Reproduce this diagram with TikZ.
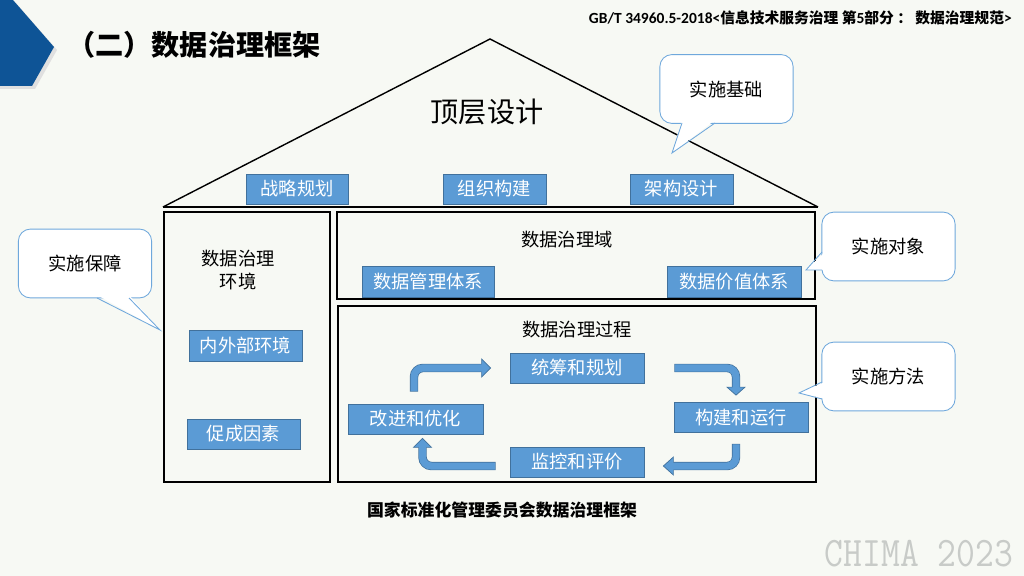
\documentclass[tikz,border=0pt]{standalone}
\usepackage{fontspec}
\newfontfamily\cjk{Noto Sans CJK SC}
\newfontfamily\latinb{Carlito}
\usetikzlibrary{calc}
\definecolor{boxfill}{RGB}{91,155,213}
\definecolor{boxedge}{RGB}{65,113,156}
\definecolor{callline}{RGB}{111,168,220}
\definecolor{slidebg}{RGB}{247,249,244}
\definecolor{cornerblue}{RGB}{14,84,150}
\definecolor{markgray}{RGB}{200,203,200}
\tikzset{
  bluebox/.style={draw=boxedge, fill=boxfill, text=white, line width=0.5pt, inner sep=0pt,
    minimum height=0.75cm, font=\cjk\fontsize{13}{13}\selectfont},
  caption/.style={font=\cjk\fontsize{13}{16}\selectfont, align=center},
  bubble/.style={draw=callline, fill=white, line width=0.6pt, rounded corners=0.3cm,
    minimum width=3.33cm, minimum height=1.72cm, font=\cjk\fontsize{13}{13}\selectfont},
  frame/.style={draw=black, line width=1.3pt},
  shaft/.style={line width=0.21cm, draw=boxedge, rounded corners=0.22cm},
  shaftin/.style={line width=0.175cm, draw=boxfill, rounded corners=0.22cm},
  head/.style={fill=boxfill, draw=boxedge, line width=0.5pt, line join=miter},
}

\begin{document}
\begin{tikzpicture}[x=0.025cm,y=-0.025cm]
\useasboundingbox (0,0) rectangle (1024,576);
\fill[slidebg] (0,0) rectangle (1024,576);

% corner mark and title
\fill[black!12] (0,3) -- (16,3) -- (57,50) -- (35,89) -- (0,89) -- cycle;
\fill[cornerblue] (0,0) -- (13,0) -- (54,47) -- (32,86) -- (0,86) -- cycle;
\node[font=\cjk\bfseries\fontsize{20}{20}\selectfont] (title) at (194,45) {（二）数据治理框架};
\node[anchor=east, inner sep=0pt] (std) at (1012,18)
  {{\latinb\bfseries\fontsize{11}{11}\selectfont GB/T 34960.5-2018<}{\cjk\bfseries\fontsize{10.5}{11}\selectfont 信息技术服务治理 第}{\latinb\bfseries\fontsize{11}{11}\selectfont 5}{\cjk\bfseries\fontsize{10.5}{11}\selectfont 部分 ： 数据治理规范}{\latinb\bfseries\fontsize{11}{11}\selectfont >}};

% roof
\draw[line width=1pt] (163,207) -- (490,39) -- (818,207);
\draw[line width=1pt] (163,207) -- (818,207);
\node[font=\cjk\fontsize{20}{20}\selectfont] (ding) at (487,112) {顶层设计};
\node[bluebox, minimum width=2.55cm] (zl) at (297,189) {战略规划};
\node[bluebox, minimum width=2.57cm] (zz) at (494.5,189) {组织构建};
\node[bluebox, minimum width=2.57cm] (jg) at (681.5,189) {架构设计};

% frames
\draw[frame] (164,212) rectangle (330,482);
\draw[frame] (337,212) rectangle (815,299);
\draw[frame] (338,306) rectangle (816,482);

% environment
\node[caption] (hj) at (238,270) {数据治理\\环境};
\node[bluebox, minimum width=2.83cm, minimum height=0.78cm] (nwb) at (245.5,345.5) {内外部环境};
\node[bluebox, minimum width=2.83cm] (cc) at (243.5,434) {促成因素};

% domain
\node[caption] (yu) at (567,240) {数据治理域};
\node[bluebox, minimum width=3.3cm, minimum height=0.78cm] (gl) at (428,281.5) {数据管理体系};
\node[bluebox, minimum width=3.35cm, minimum height=0.78cm] (jz) at (734,281.5) {数据价值体系};

% process
\node[caption] (gc) at (577,330) {数据治理过程};
\node[bluebox, minimum width=3.35cm] (tc) at (577,368) {统筹和规划};
\node[bluebox, minimum width=3.37cm] (gy) at (415.5,419) {改进和优化};
\node[bluebox, minimum width=3.35cm] (js) at (741,417.5) {构建和运行};
\node[bluebox, minimum width=3.35cm] (jp) at (577,462) {监控和评价};

% cycle arrows
\draw[shaft] ($(gy.north)+(-1.5,-12)$) |- ($(tc.west)+(-28,0)$);
\filldraw[head] ($(tc.west)+(-28,-9)$) -- ($(tc.west)+(-19,0)$) -- ($(tc.west)+(-28,9)$) -- cycle;
\draw[shaftin] ($(gy.north)+(-1.5,-12.6)$) |- ($(tc.west)+(-27,0)$);

\draw[shaft] ($(tc.east)+(30,0)$) -| ($(js.north)+(-5,-15)$);
\filldraw[head] ($(js.north)+(-14,-15)$) -- ($(js.north)+(-5,-7)$) -- ($(js.north)+(4,-15)$) -- cycle;
\draw[shaftin] ($(tc.east)+(30.6,0)$) -| ($(js.north)+(-5,-14)$);

\draw[shaft] ($(js.south)+(-5,11)$) |- ($(jp.east)+(29,4)$);
\filldraw[head] ($(jp.east)+(29,-5)$) -- ($(jp.east)+(19,4)$) -- ($(jp.east)+(29,13)$) -- cycle;
\draw[shaftin] ($(js.south)+(-5,11.6)$) |- ($(jp.east)+(28,4)$);

\draw[shaft] ($(jp.west)+(-14,4)$) -| ($(gy.south)+(7,13)$);
\filldraw[head] ($(gy.south)+(-2,13)$) -- ($(gy.south)+(7,4)$) -- ($(gy.south)+(16,13)$) -- cycle;
\draw[shaftin] ($(jp.west)+(-14.6,4)$) -| ($(gy.south)+(7,12)$);

% callouts
\node[bubble] (jc) at (726.5,89) {实施基础};
\fill[white] (682,120) -- (672,153) -- (715,120) -- cycle;
\draw[callline, line width=0.6pt] (682,123) -- (672,153) -- (715,123);

\node[bubble] (bz) at (85,263.5) {实施保障};
\fill[white] (97,295) -- (160,330) -- (129,295) -- cycle;
\draw[callline, line width=0.6pt] (97,298) -- (160,330) -- (129,298);

\node[bubble] (dx) at (888.5,246.5) {实施对象};
\fill[white] (825,252) -- (806,270) -- (825,270) -- cycle;
\draw[callline, line width=0.6pt] (822,252) -- (806,270) -- (822,270);

\node[bubble] (ff) at (888.5,376.5) {实施方法};
\fill[white] (825,382) -- (799,393) -- (825,399) -- cycle;
\draw[callline, line width=0.6pt] (822,382) -- (799,393) -- (822,399);

% footer
\node[font=\cjk\bfseries\fontsize{12}{12}\selectfont] (src) at (502,510) {国家标准化管理委员会数据治理框架};
\node[text=markgray, inner sep=0pt, font=\ttfamily\fontsize{26}{26}\selectfont] (mark) at (919,554) {\scalebox{1}[1.15]{CHIMA 2023}};
\end{tikzpicture}
\end{document}
